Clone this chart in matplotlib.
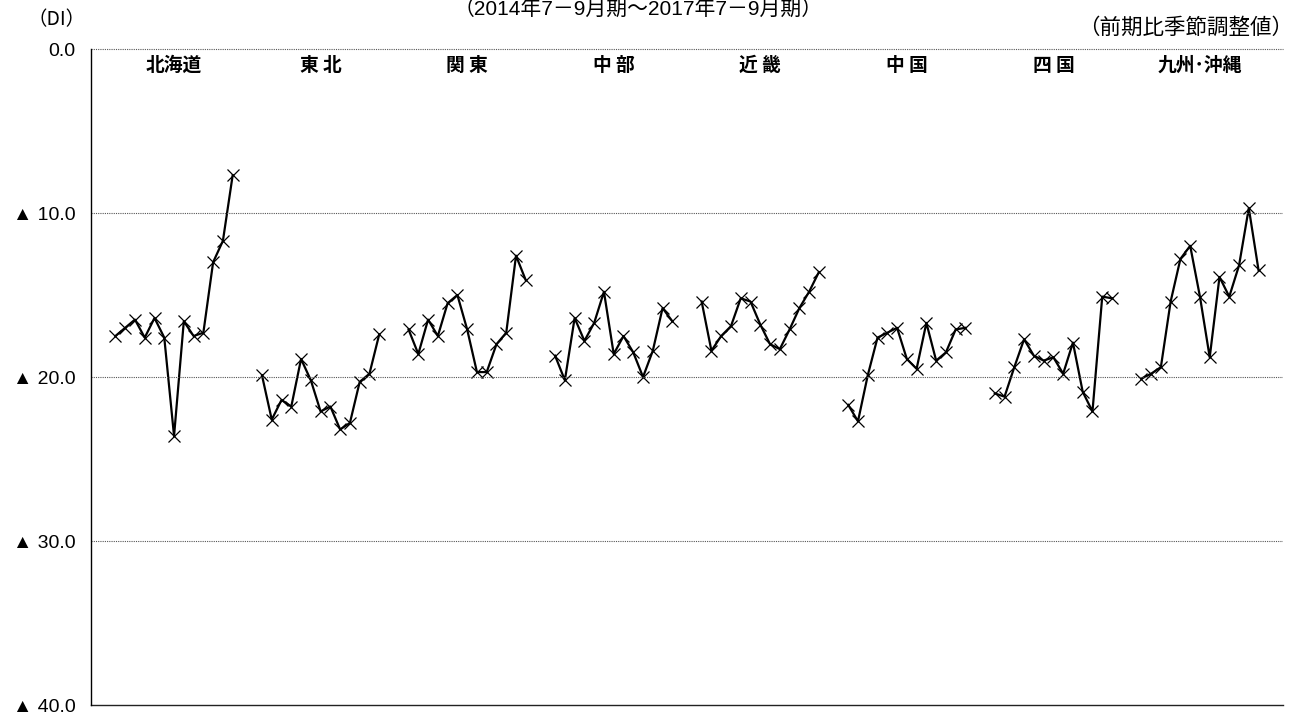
import matplotlib
matplotlib.use("Agg")
import matplotlib.pyplot as plt

plt.rcParams['font.family'] = ['Liberation Sans', 'Noto Sans CJK JP', 'DejaVu Sans']
JP = ['Noto Sans CJK JP', 'DejaVu Sans']

regions = ["北海道", "東 北", "関 東", "中 部", "近 畿", "中 国", "四 国", "九州･沖縄"]

# DI values, 2014 Q3 .. 2017 Q3 (negative = ▲)
hokkaido = [-17.5, -17.0, -16.5, -17.6, -16.4, -17.6, -23.6, -16.6, -17.5, -17.3, -13.0, -11.7, -7.7]
tohoku = [-19.9, -22.6, -21.4, -21.8, -18.9, -20.2, -22.1, -21.8, -23.2, -22.8, -20.3, -19.8, -17.4]
kanto = [-17.1, -18.6, -16.5, -17.5, -15.5, -15.0, -17.1, -19.7, -19.7, -18.0, -17.3, -12.6, -14.1]
chubu = [-18.7, -20.2, -16.4, -17.8, -16.7, -14.8, -18.6, -17.5, -18.5, -20.0, -18.4, -15.8, -16.6]
kinki = [-15.4, -18.4, -17.5, -16.9, -15.2, -15.4, -16.8, -18.0, -18.3, -17.1, -15.8, -14.8, -13.6]
chugoku = [-21.7, -22.7, -19.9, -17.6, -17.3, -17.0, -18.9, -19.5, -16.7, -19.0, -18.5, -17.1, -17.0]
shikoku = [-21.0, -21.2, -19.4, -17.7, -18.7, -19.0, -18.8, -19.8, -17.9, -20.9, -22.1, -15.1, -15.2]
kyushu = [-20.1, -19.8, -19.4, -15.4, -12.8, -12.0, -15.1, -18.8, -13.9, -15.1, -13.2, -9.7, -13.5]

series = [hokkaido, tohoku, kanto, chubu, kinki, chugoku, shikoku, kyushu]

yticks = [0, -10, -20, -30, -40]
yticklabels = ["0.0", "▲ 10.0", "▲ 20.0", "▲ 30.0", "▲ 40.0"]

fig = plt.figure(figsize=(12.97, 7.13), dpi=100)
ax = fig.add_axes([91 / 1297, 8 / 713, 1192 / 1297, 656 / 713])

# each region: 2 empty slots then 13 quarters
gap = 2
block = 15
for i, vals in enumerate(series):
    xs = [gap + i * block + k for k in range(len(vals))]
    ax.plot(xs, vals, color='black', lw=1.6, marker='x', ms=8, mew=0.9)
    ax.text(gap + i * block + 6, -1.0, regions[i], ha='center', va='center',
            fontsize=13.5, fontweight='bold', family=JP)

ax.set_xlim(-0.5, 121.5)
ax.set_ylim(-40, 0)
ax.set_xticks([])
ax.set_yticks(yticks)
ax.set_yticklabels(yticklabels, fontsize=14)
ax.tick_params(axis='y', length=0, pad=11)

# dotted gridlines
for y in [-10, -20, -30]:
    ax.axhline(y, color='#555555', lw=0.8, ls=(0, (1, 1)))
ax.axhline(0, color='#555555', lw=0.8, ls=(0, (1, 1)), clip_on=False)
ax.axhline(-40, color='#222222', lw=1.0, clip_on=False)

ax.spines['top'].set_visible(False)
ax.spines['right'].set_visible(False)
ax.spines['bottom'].set_visible(False)
ax.spines['left'].set_linewidth(1.0)

fig.text(57 / 1297, 1 - 20 / 713, "（DI）", ha='center', va='center', fontsize=14, family=JP)
fig.text(1293 / 1297, 1 - 28 / 713, "（前期比季節調整値）", ha='right', va='center', fontsize=15.5, family=JP)
fig.text(638 / 1297, 1.0, "（2014年7－9月期～2017年7－9月期）", ha='center', va='top',
         fontsize=15, family=['Liberation Sans', 'Noto Sans CJK JP'])

fig.savefig("out.png", dpi=100)
